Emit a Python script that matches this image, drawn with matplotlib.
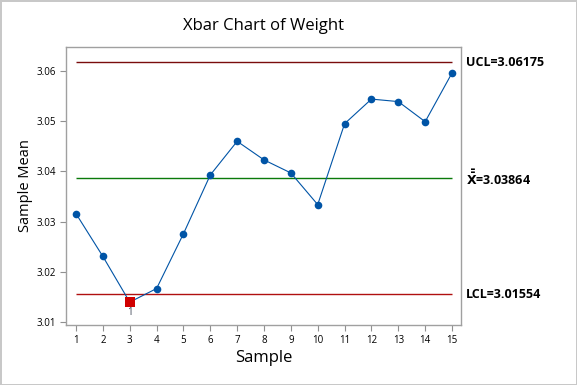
import numpy as np
import matplotlib
matplotlib.use("Agg")
import matplotlib.pyplot as plt

# values
samples = list(range(1, 16))
means = [3.0316, 3.0231, 3.0140, 3.0167, 3.0276, 3.0393, 3.0460, 3.0423,
         3.0397, 3.0334, 3.0495, 3.0544, 3.0539, 3.0499, 3.0596]
ucl = 3.06175
center = 3.03864
lcl = 3.01554
flagged = [3]          # samples out of control (test 1)
yticks = [3.01, 3.02, 3.03, 3.04, 3.05, 3.06]

plt.rcParams['font.family'] = ['Open Sans', 'DejaVu Sans']

fig = plt.figure(figsize=(5.77, 3.85), dpi=100)
fig.patch.set_edgecolor('#c8c8c8')
fig.patch.set_linewidth(2)
ax = fig.add_axes([0.1144, 0.156, 0.6846, 0.722])

ax.hlines(ucl, 1, 15, color='#7a0c0c', lw=1.0, zorder=1)
ax.hlines(center, 1, 15, color='#0a7a0a', lw=1.0, zorder=1)
ax.hlines(lcl, 1, 15, color='#b01010', lw=1.0, zorder=1)

ax.plot(samples, means, color='#0054a6', lw=0.8, marker='o', ms=5.5,
        markeredgewidth=0, zorder=3)
for s in flagged:
    ax.plot(s, means[s - 1], marker='s', color='#d00000', ms=6.5,
            markeredgewidth=0, zorder=4)
    ax.text(s, means[s - 1] - 0.0010, '1', ha='center', va='top',
            fontsize=7, color='#404858', zorder=5)

ax.set_xlim(0.628, 15.335)
ax.set_ylim(3.00946, 3.06477)
ax.set_xticks(samples)
ax.set_yticks(yticks)
ax.set_yticklabels([f'{v:.2f}' for v in yticks])
ax.tick_params(labelsize=7, length=4, color='#909090', width=0.8, pad=3)
for sp in ax.spines.values():
    sp.set_color('#a0a0a0')
    sp.set_linewidth(1.0)

ax.set_title('Xbar Chart of Weight', fontsize=12, pad=12)
ax.set_xlabel('Sample', fontsize=12, labelpad=3)
ax.set_ylabel('Sample Mean', fontsize=10.5, labelpad=3)

tx = 1.012
ax.text(tx, ucl, f'UCL={ucl:.5f}', transform=ax.get_yaxis_transform(),
        fontsize=9, fontweight='bold', va='center', ha='left')
ax.text(tx, center, r'$\mathbf{\bar{\bar{X}}}$' + f'={center:.5f}',
        transform=ax.get_yaxis_transform(),
        fontsize=9, fontweight='bold', va='center', ha='left')
ax.text(tx, lcl, f'LCL={lcl:.5f}', transform=ax.get_yaxis_transform(),
        fontsize=9, fontweight='bold', va='center', ha='left')

fig.savefig('out.png', dpi=100, edgecolor=fig.get_edgecolor())
